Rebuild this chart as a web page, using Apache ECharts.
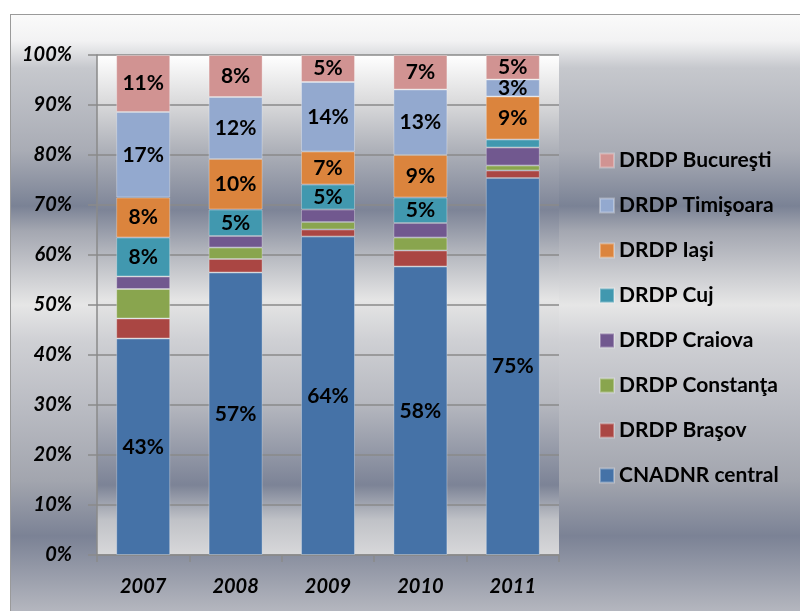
<!DOCTYPE html>
<html>
<head>
<meta charset="utf-8">
<script src="https://cdn.jsdelivr.net/npm/echarts@6/dist/echarts.min.js"></script>
<style>
	body { margin: 0; background: #fff; }
	#wrap { position: relative; width: 800px; height: 611px; overflow: hidden; }
	#frame {
		position: absolute; left: 10px; top: 14px; width: 820px; height: 620px;
		border: 1px solid #9a9a9a;
		background: linear-gradient(to bottom,
			#fafafa 0px, #f2f2f3 26px, #c6c8cd 53px, #a9acb5 136px, #7a8295 191px,
			#a4a7b1 216px, #e6e6e6 290px, #cfd0d4 326px, #b9bbc2 394px,
			#a2a5ae 466px, #7b8295 521px, #b5b7bf 597px);
	}
	#chart { position: absolute; left: 0; top: 0; width: 800px; height: 611px; }
</style>
</head>
<body>
<div id="wrap">
	<div id="frame"></div>
	<div id="chart"></div>
</div>
<script>
	// values, in percent
	var years = ['2007', '2008', '2009', '2010', '2011'];
	var cnadnr = [43.3, 56.5, 63.7, 57.7, 75.4];
	var brasov = [4.0, 2.7, 1.4, 3.2, 1.5];
	var constanta = [5.9, 2.3, 1.5, 2.6, 1.0];
	var craiova = [2.5, 2.3, 2.5, 2.9, 3.6];
	var cuj = [7.8, 5.3, 5.0, 5.1, 1.6];
	var iasi = [8.0, 10.1, 6.6, 8.5, 8.6];
	var timisoara = [17.1, 12.4, 13.9, 13.1, 3.4];
	var bucuresti = [11.4, 8.4, 5.4, 6.9, 4.9];

	var names = ['CNADNR central', 'DRDP Braşov', 'DRDP Constanţa', 'DRDP Craiova',
		'DRDP Cuj', 'DRDP Iaşi', 'DRDP Timişoara', 'DRDP Bucureşti'];
	var values = [cnadnr, brasov, constanta, craiova, cuj, iasi, timisoara, bucuresti];
	var colors = ['#4572a7', '#aa4643', '#89a54e', '#71588f', '#4198af', '#db843d', '#93a9cf', '#d19392'];
	var labelled = [true, false, false, false, true, true, true, true];

	var font = 'Lato, "Open Sans", sans-serif';
	var chart = echarts.init(document.getElementById('chart'));

	var series = [];
	for (var i = 0; i < names.length; i++) {
		series.push({
			name: names[i],
			type: 'bar',
			stack: 'total',
			barWidth: 54,
			data: values[i],
			itemStyle: {
				color: colors[i],
				borderColor: 'rgba(255,255,255,0.3)',
				borderWidth: 1
			},
			label: {
				show: labelled[i],
				position: 'inside',
				color: '#000',
				fontFamily: font,
				fontWeight: 'bold',
				fontSize: 21,
				formatter: function (p) {
					return p.value < 3 ? '' : Math.round(p.value) + '%';
				}
			}
		});
	}

	var option = {
		backgroundColor: 'transparent',
		animation: false,
		grid: {
			left: 97,
			right: 241,
			top: 55,
			bottom: 56,
			show: true,
			borderWidth: 0,
			backgroundColor: new echarts.graphic.LinearGradient(0, 0, 0, 1, [
				{offset: 0, color: '#ffffff'},
				{offset: 0.09, color: '#dcdcdd'},
				{offset: 0.19, color: '#aeb1b9'},
				{offset: 0.31, color: '#7d8497'},
				{offset: 0.39, color: '#b0b3bb'},
				{offset: 0.49, color: '#e5e5e5'},
				{offset: 0.57, color: '#cfd0d4'},
				{offset: 0.69, color: '#b8bac1'},
				{offset: 0.86, color: '#7c8396'},
				{offset: 0.93, color: '#c0c2c7'},
				{offset: 1, color: '#d8d8da'}
			])
		},
		legend: {
			orient: 'vertical',
			left: 599,
			top: 150,
			padding: 0,
			itemWidth: 14,
			itemHeight: 14,
			itemGap: 24,
			icon: 'rect',
			data: names.slice().reverse(),
			textStyle: {
				color: '#000',
				fontFamily: font,
				fontWeight: 'bold',
				fontSize: 21
			}
		},
		xAxis: {
			type: 'category',
			data: years,
			axisLine: {lineStyle: {color: '#8a8a8a', width: 1.5}},
			axisTick: {show: true, length: 7, lineStyle: {color: '#8a8a8a', width: 1.5}},
			axisLabel: {
				margin: 22,
				color: '#000',
				fontFamily: font,
				fontWeight: 'bold',
				fontStyle: 'italic',
				fontSize: 20
			}
		},
		yAxis: {
			type: 'value',
			min: 0,
			max: 100,
			interval: 10,
			axisLine: {show: true, lineStyle: {color: '#8a8a8a', width: 1.5}},
			axisTick: {show: true, length: 9, lineStyle: {color: '#8a8a8a', width: 1.5}},
			splitLine: {lineStyle: {color: '#8a8a8a', width: 1.5}},
			axisLabel: {
				margin: 25,
				color: '#000',
				fontFamily: font,
				fontWeight: 'bold',
				fontStyle: 'italic',
				fontSize: 20,
				formatter: '{value}%'
			}
		},
		series: series
	};

	chart.setOption(option);
</script>
</body>
</html>
